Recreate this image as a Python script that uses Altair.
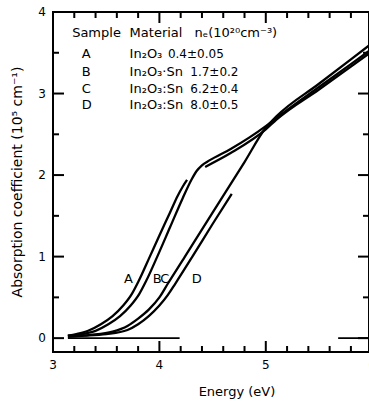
import altair as alt
import pandas as pd

# ---- curve data (energy in eV, absorption coefficient in 1e5 cm^-1) ----
energy_A_low = [3.14, 3.22, 3.33, 3.45, 3.56, 3.66, 3.74, 3.805, 3.91, 4.0, 4.1, 4.17, 4.22, 4.26]
alpha_A_low = [0.03, 0.05, 0.09, 0.17, 0.27, 0.4, 0.54, 0.7, 1.0, 1.26, 1.54, 1.74, 1.86, 1.94]
energy_A_high = [4.43, 4.67, 5.0, 5.1, 5.5, 5.8, 6.0]
alpha_A_high = [2.1, 2.27, 2.56, 2.68, 3.05, 3.33, 3.52]
energy_B = [3.14, 3.27, 3.4, 3.52, 3.63, 3.73, 3.81, 3.875, 3.98, 4.1, 4.22, 4.3, 4.35, 4.4,
            4.47, 4.67, 5.0, 5.1, 5.5, 5.8, 6.0]
alpha_B = [0.03, 0.05, 0.09, 0.17, 0.27, 0.4, 0.54, 0.7, 1.0, 1.36, 1.72, 1.94, 2.05, 2.12,
           2.18, 2.32, 2.6, 2.7, 3.08, 3.36, 3.55]
energy_C = [3.14, 3.35, 3.56, 3.7, 3.8, 3.9, 4.0, 4.08, 4.24, 4.5, 4.8, 5.0, 5.1, 5.5, 5.8, 6.0]
alpha_C = [0.02, 0.04, 0.08, 0.15, 0.24, 0.35, 0.5, 0.67, 1.0, 1.54, 2.16, 2.58, 2.72, 3.12, 3.42, 3.62]
energy_D = [3.14, 3.3, 3.5, 3.7, 3.8, 3.9, 4.0, 4.08, 4.15, 4.31, 4.5, 4.68]
alpha_D = [0.02, 0.03, 0.05, 0.1, 0.17, 0.27, 0.4, 0.53, 0.67, 1.0, 1.4, 1.77]

# zero-reference segments
zero_start = [3.14, 5.68]
zero_end = [4.19, 6.0]

# tick values
x_minor_ticks = [3.2, 3.4, 3.6, 3.8, 4.2, 4.4, 4.6, 4.8, 5.2, 5.4, 5.6, 5.8]
x_major_ticks = [4.0, 5.0]
y_minor_ticks = [0.5, 1.5, 2.5, 3.5]
y_major_ticks = [0, 1, 2, 3]
x_labels = [3, 4, 5, 6]
y_labels = [0, 1, 2, 3, 4]
x_title = "Energy (eV)"
y_title = "Absorption coefficient (10⁵ cm⁻¹)"

# curve labels
curve_label_text = ["A", "B", "C", "D"]
curve_label_E = [3.71, 3.98, 4.05, 4.35]
curve_label_a = [0.73, 0.73, 0.73, 0.73]

# table text
table_header_text = ["Sample", "Material", "nₑ(10²⁰cm⁻³)"]
table_header_E = [3.18, 3.72, 4.33]
table_header_a = [3.74, 3.74, 3.74]
row_letters = ["A", "B", "C", "D"]
row_materials = ["In₂O₃", "In₂O₃·Sn", "In₂O₃:Sn", "In₂O₃:Sn"]
row_values = ["0.4±0.05", "1.7±0.2", "6.2±0.4", "8.0±0.5"]
row_alpha = [3.48, 3.27, 3.06, 2.86]
row_letter_E = 3.27
row_material_E = 3.72
row_value_E = [4.08, 4.29, 4.29, 4.29]

FONT = "DejaVu Sans"
W, H = 316, 340
X0, X1 = 3.0, 5.97
Y0, Y1 = -0.17, 4.0
xs = alt.Scale(domain=[X0, X1], nice=False, zero=False)
ys = alt.Scale(domain=[Y0, Y1], nice=False, zero=False)
PX_X = W / (X1 - X0)
PX_Y = H / (Y1 - Y0)

# ---- one table for curves and inward tick segments ----
rows = []
for name, es, al in [("A_low", energy_A_low, alpha_A_low), ("A_high", energy_A_high, alpha_A_high),
                     ("B", energy_B, alpha_B), ("C", energy_C, alpha_C), ("D", energy_D, alpha_D)]:
    for i, (e, a) in enumerate(zip(es, al)):
        rows.append({"E": e, "a": a, "seg": name, "i": i, "kind": "curve"})

k = 0
for vals, ln in [(x_minor_ticks, 6), (x_major_ticks, 11)]:
    for v in vals:
        for edge, sign in [(Y0, 1), (Y1, -1)]:
            rows.append({"E": v, "a": edge, "seg": f"t{k}", "i": 0, "kind": "tick"})
            rows.append({"E": v, "a": edge + sign * ln / PX_Y, "seg": f"t{k}", "i": 1, "kind": "tick"})
            k += 1
for vals, ln in [(y_minor_ticks, 6), (y_major_ticks, 11)]:
    for v in vals:
        for edge, sign in [(X0, 1), (X1, -1)]:
            rows.append({"E": edge, "a": v, "seg": f"t{k}", "i": 0, "kind": "tick"})
            rows.append({"E": edge + sign * ln / PX_X, "a": v, "seg": f"t{k}", "i": 1, "kind": "tick"})
            k += 1
lines_df = pd.DataFrame(rows)


def Xn(field):
    return alt.X(field, scale=xs, axis=None)


def Yn(field):
    return alt.Y(field, scale=ys, axis=None)


layers = []

layers.append(alt.Chart(lines_df).mark_line(color="black", interpolate="monotone").encode(
    x=Xn("E:Q"), y=Yn("a:Q"), detail="seg:N", order="i:Q",
    strokeWidth=alt.StrokeWidth("kind:N", scale=alt.Scale(domain=["curve", "tick"], range=[2.3, 2.0]),
                                legend=None)))

zero_df = pd.DataFrame({"s": zero_start, "e": zero_end, "z": [0.0] * len(zero_start)})
layers.append(alt.Chart(zero_df).mark_rule(color="black", strokeWidth=1.6).encode(
    x=Xn("s:Q"), x2="e:Q", y=Yn("z:Q")))

# tick labels
xl = pd.DataFrame({"v": x_labels, "t": [str(v) for v in x_labels]})
layers.append(alt.Chart(xl).mark_text(font=FONT, fontSize=12, color="black", align="center",
                                      baseline="middle").encode(
    x=Xn("v:Q"), y=alt.value(H + 13), text="t:N"))
yl = pd.DataFrame({"v": y_labels, "t": [str(v) for v in y_labels]})
layers.append(alt.Chart(yl).mark_text(font=FONT, fontSize=12, color="black", align="right",
                                      baseline="middle").encode(
    y=Yn("v:Q"), x=alt.value(-7), text="t:N"))

# axis titles
layers.append(alt.Chart(pd.DataFrame({"t": [x_title]})).mark_text(
    font=FONT, fontSize=13, color="black", align="center", baseline="middle").encode(
    x=alt.value(184), y=alt.value(H + 40), text="t:N"))
layers.append(alt.Chart(pd.DataFrame({"t": [y_title]})).mark_text(
    font=FONT, fontSize=14, color="black", align="center", baseline="middle", angle=270).encode(
    x=alt.value(-35), y=alt.value(170), text="t:N"))


def text_layer(df, align="left", size=13):
    return alt.Chart(df).mark_text(font=FONT, fontSize=size, color="black", align=align,
                                   baseline="middle").encode(
        x=Xn("E:Q"), y=Yn("a:Q"), text="t:N")


lab_df = pd.DataFrame({"t": curve_label_text, "E": curve_label_E, "a": curve_label_a})
hdr_df = pd.DataFrame({"t": table_header_text, "E": table_header_E, "a": table_header_a})
let_df = pd.DataFrame({"t": row_letters, "E": [row_letter_E] * 4, "a": row_alpha})
mat_df = pd.DataFrame({"t": row_materials, "E": [row_material_E] * 4, "a": row_alpha})
val_df = pd.DataFrame({"t": row_values, "E": row_value_E, "a": row_alpha})

layers += [text_layer(lab_df, "center"), text_layer(hdr_df), text_layer(let_df),
           text_layer(mat_df), text_layer(val_df, size=12)]

chart = alt.layer(*layers).properties(
    width=W, height=H,
    autosize=alt.AutoSizeParams(type="none"),
    padding={"left": 53, "top": 12, "right": 0, "bottom": 51},
    background="white",
).configure_view(stroke="black", strokeWidth=2)

chart.save("out.html", embed_options={"renderer": "svg", "actions": False})
